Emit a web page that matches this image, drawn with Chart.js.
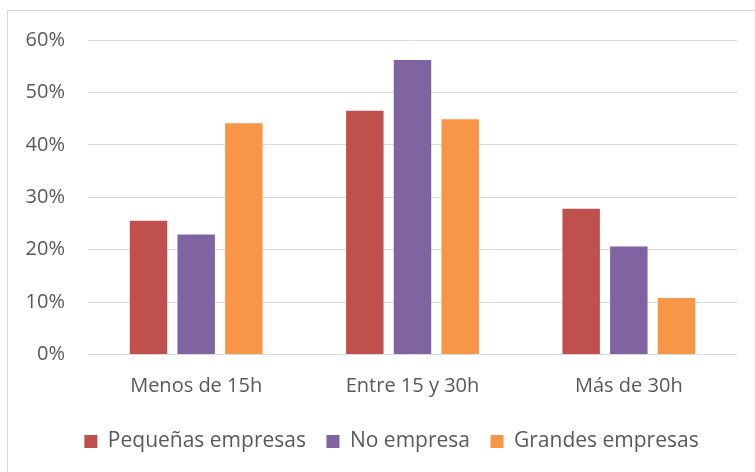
<!DOCTYPE html>
<html lang="es">
<head>
<meta charset="utf-8">
<title>Horas semanales por tipo de empresa</title>
<script src="https://cdn.jsdelivr.net/npm/chart.js@4"></script>
<style>
  html, body { margin: 0; padding: 0; background: #ffffff; overflow: hidden; }
  #wrap { position: relative; width: 755px; height: 472px; }
  #frame {
    position: absolute; left: 7px; top: 10px; width: 800px; height: 520px;
    border: 1px solid #d9d9d9; box-sizing: border-box;
  }
  #chart { position: absolute; left: 0; top: 0; }
</style>
</head>
<body>
<div id="wrap">
  <div id="frame"></div>
  <canvas id="chart" width="755" height="472"></canvas>
</div>
<script>
// Franjas de horas semanales
const categories = ['Menos de 15h', 'Entre 15 y 30h', 'Más de 30h'];

// Porcentaje de cada grupo en cada franja
const pequenas = [25.5, 46.5, 27.8];
const noEmpresa = [22.9, 56.2, 20.6];
const grandes = [44.1, 44.9, 10.8];

// Marcas del eje vertical (en %)
const yTicks = [0, 10, 20, 30, 40, 50, 60];

const seriesNames = ['Pequeñas empresas', 'No empresa', 'Grandes empresas'];
const seriesColors = ['#C0504D', '#8064A2', '#F79646'];

const textColor = '#595959';
const fontFamily = '"Open Sans", "DejaVu Sans", sans-serif';

const data = {
  labels: categories,
  datasets: [pequenas, noEmpresa, grandes].map((values, i) => ({
    label: seriesNames[i],
    data: values,
    backgroundColor: seriesColors[i],
    borderWidth: 0,
    categoryPercentage: 0.661,
    barPercentage: 0.786
  }))
};

// The left layout padding keeps the legend centred under the plot; let the
// y tick labels use that margin instead of being clipped to the axis box.
const widenYLabelArea = {
  id: 'widenYLabelArea',
  afterLayout(chart) {
    const y = chart.scales.y;
    if (y) { y.left = 0; }
  }
};

new Chart(document.getElementById('chart'), {
  type: 'bar',
  data,
  plugins: [widenYLabelArea],
  options: {
    responsive: false,
    animation: false,
    devicePixelRatio: 1,
    layout: { padding: { top: 40, right: 18, bottom: 10, left: 46 } },
    plugins: {
      tooltip: { enabled: false },
      legend: {
        position: 'bottom',
        labels: {
          boxWidth: 13,
          boxHeight: 13,
          padding: 20.5,
          color: textColor,
          font: { family: fontFamily, size: 21 }
        }
      }
    },
    scales: {
      x: {
        grid: { display: false, drawTicks: false },
        border: { display: false },
        ticks: {
          color: textColor,
          padding: 20,
          font: { family: fontFamily, size: 20 }
        },
        afterFit: (scale) => { scale.height = 56; }
      },
      y: {
        min: yTicks[0],
        max: yTicks[yTicks.length - 1],
        afterBuildTicks: (scale) => { scale.ticks = yTicks.map(v => ({ value: v })); },
        grid: { color: '#d9d9d9', lineWidth: 1, drawTicks: false },
        border: { display: false },
        ticks: {
          color: textColor,
          padding: 23,
          font: { family: fontFamily, size: 20 },
          callback: (v) => v + '%'
        },
        afterFit: (scale) => { scale.width = 42; }
      }
    }
  }
});
</script>
</body>
</html>
